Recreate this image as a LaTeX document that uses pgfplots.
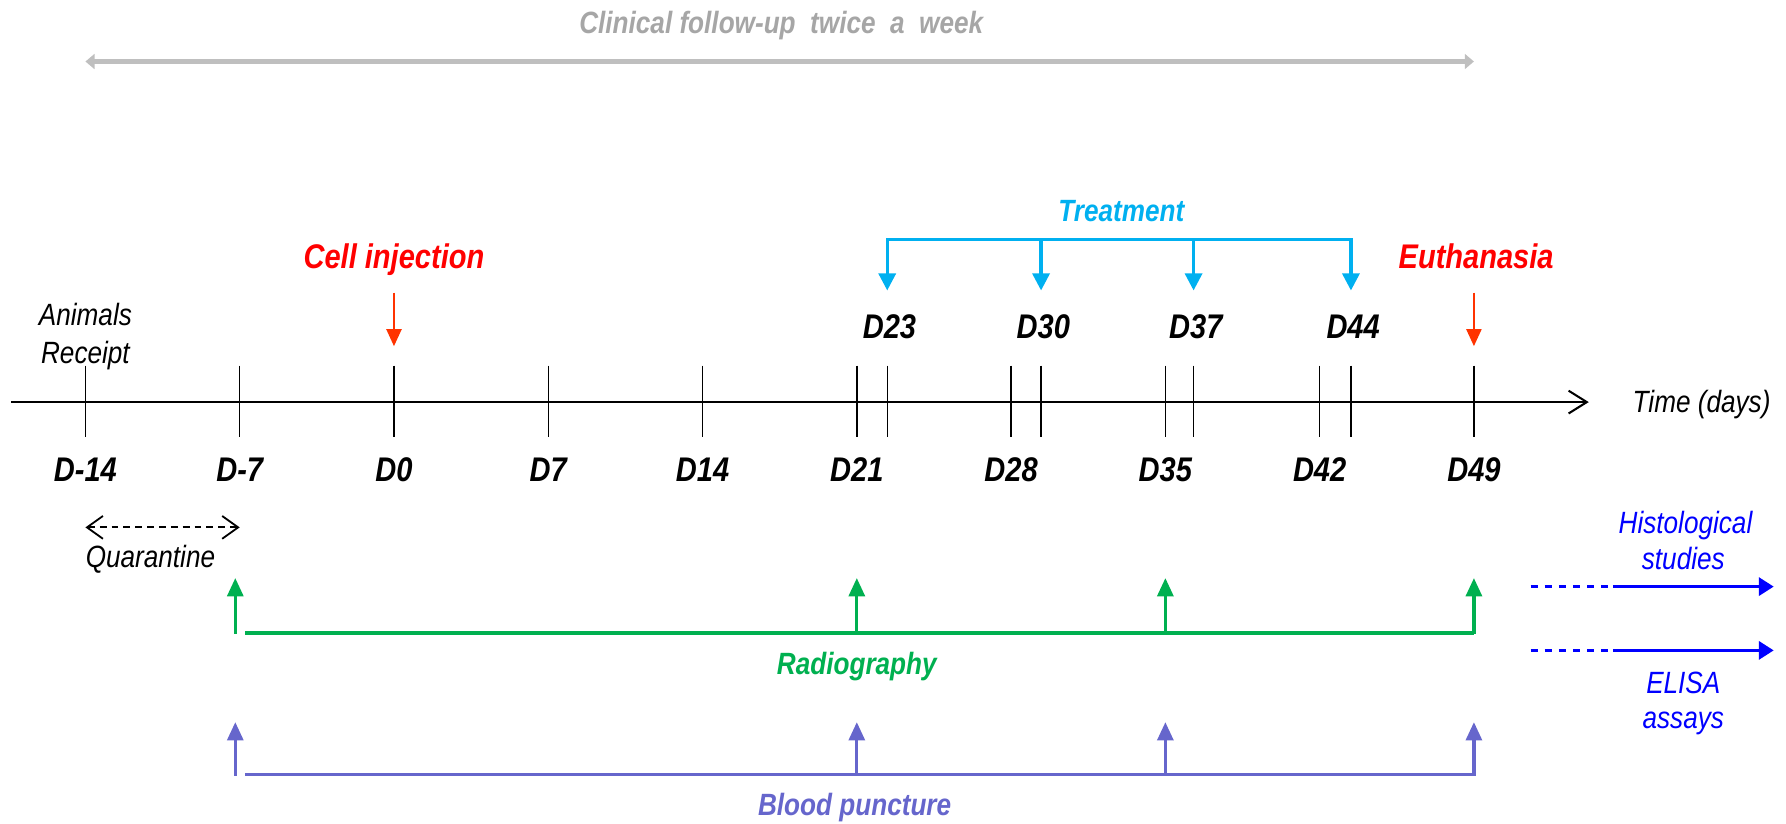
\documentclass[border=0pt]{standalone}
\usepackage{fontspec}
\setmainfont{Liberation Sans}[FakeStretch=0.85]
\usepackage{pgfplots}
\pgfplotsset{compat=1.18}
\usetikzlibrary{arrows.meta}
\definecolor{redtxt}{RGB}{255,0,0}
\definecolor{redarr}{RGB}{255,51,0}
\definecolor{cyanT}{RGB}{0,176,240}
\definecolor{greenR}{RGB}{0,176,80}
\definecolor{purpB}{RGB}{102,102,204}
\definecolor{blueH}{RGB}{0,0,255}
\definecolor{grayL}{RGB}{191,191,191}
\definecolor{grayT}{RGB}{166,166,166}
\tikzset{
  big/.style={inner sep=0pt, font=\fontsize{15}{18}\selectfont\bfseries\itshape},
  lab/.style={inner sep=0pt, font=\fontsize{13.5}{16}\selectfont\itshape},
  blab/.style={inner sep=0pt, font=\fontsize{13.5}{16}\selectfont\bfseries\itshape}}
\begin{document}
\begin{tikzpicture}
\begin{axis}[hide axis, scale only axis, width=784pt, height=361.5pt,
  xmin=-17.876, xmax=63.16, ymin=0, ymax=723, y dir=reverse, clip=false]
% bounding box
\addplot[draw=none] coordinates {(-17.876,0) (63.16,723)};
% clinical follow-up
\addplot[grayL, line width=2.5pt, {Triangle[length=4pt,width=6.5pt]}-{Triangle[length=4pt,width=6.5pt]}] coordinates {(-14,54) (49,54)};
\node[blab, text=grayT, anchor=base] at (axis cs:17.57,29) {Clinical follow-up \ twice \ a \ week};
% main time axis
\addplot[black, line width=0.9pt, -{Straight Barb[length=8pt,width=10pt]}] coordinates {(-17.36,353) (54.21,353)};
\pgfplotsinvokeforeach{-14,-7,0,7,14,21,22.38,28,29.36,35,36.28,42,43.42,49}{
  \addplot[black, line width=0.6pt] coordinates {(#1,321) (#1,384)};
}
\pgfplotsinvokeforeach{-14,-7,0,7,14,21,28,35,42,49}{
  \node[big, anchor=base] at (axis cs:#1,423) {D#1};
}
\node[big, anchor=base] at (axis cs:22.48,297) {D23};
\node[big, anchor=base] at (axis cs:29.46,297) {D30};
\node[big, anchor=base] at (axis cs:36.38,297) {D37};
\node[big, anchor=base] at (axis cs:43.52,297) {D44};
\node[lab, anchor=base] at (axis cs:59.33,362) {Time (days)};
% animals receipt
\node[lab, anchor=base] at (axis cs:-14,286) {Animals};
\node[lab, anchor=base] at (axis cs:-14,319) {Receipt};
% cell injection and euthanasia
\node[big, text=redtxt, anchor=base] at (axis cs:0,236) {Cell injection};
\node[big, text=redtxt, anchor=base] at (axis cs:49.1,236) {Euthanasia};
\addplot[redarr, line width=1.2pt, -{Triangle[length=7.5pt,width=6.5pt]}] coordinates {(0,257) (0,304)};
\addplot[redarr, line width=1.2pt, -{Triangle[length=7.5pt,width=6.5pt]}] coordinates {(49,257) (49,304)};
% treatment
\node[blab, text=cyanT, anchor=base] at (axis cs:33,194.6) {Treatment};
\addplot[cyanT, line width=1.4pt] coordinates {(22.38,210) (43.42,210)};
\pgfplotsinvokeforeach{22.38,29.36,36.28,43.42}{
  \addplot[cyanT, line width=1.4pt, -{Triangle[length=7.5pt,width=7.5pt]}] coordinates {(#1,209.3) (#1,255)};
}
% quarantine
\addplot[black, line width=0.8pt, dash pattern=on 3pt off 2.2pt, {Straight Barb[length=7pt,width=10pt]}-{Straight Barb[length=7pt,width=10pt]}] coordinates {(-14,463) (-7,463)};
\node[lab, anchor=base] at (axis cs:-11.05,498) {Quarantine};
% radiography
\addplot[greenR, line width=1.7pt] coordinates {(-6.75,555.5) (49,555.5)};
\pgfplotsinvokeforeach{-7.2,21,35,49}{
  \addplot[greenR, line width=1.4pt, -{Triangle[length=8pt,width=7pt]}] coordinates {(#1,556.5) (#1,507.5)};
}
\node[blab, text=greenR, anchor=base] at (axis cs:21,592) {Radiography};
% blood puncture
\addplot[purpB, line width=1.7pt] coordinates {(-6.75,680) (49,680)};
\pgfplotsinvokeforeach{-7.2,21,35,49}{
  \addplot[purpB, line width=1.4pt, -{Triangle[length=8pt,width=7pt]}] coordinates {(#1,681) (#1,634)};
}
\node[blab, text=purpB, anchor=base] at (axis cs:20.9,716) {Blood puncture};
% histological / ELISA
\addplot[blueH, line width=1.1pt, dash pattern=on 3.2pt off 3pt] coordinates {(51.57,515) (55.3,515)};
\addplot[blueH, line width=1.1pt, -{Triangle[length=6.5pt,width=8pt]}] coordinates {(55.3,515) (62.6,515)};
\addplot[blueH, line width=1.1pt, dash pattern=on 3.2pt off 3pt] coordinates {(51.57,571) (55.3,571)};
\addplot[blueH, line width=1.1pt, -{Triangle[length=6.5pt,width=8pt]}] coordinates {(55.3,571) (62.6,571)};
\node[lab, text=blueH, anchor=base] at (axis cs:58.6,468) {Histological};
\node[lab, text=blueH, anchor=base] at (axis cs:58.5,500) {studies};
\node[lab, text=blueH, anchor=base] at (axis cs:58.5,608.6) {ELISA};
\node[lab, text=blueH, anchor=base] at (axis cs:58.5,640) {assays};
\end{axis}
\end{tikzpicture}
\end{document}
